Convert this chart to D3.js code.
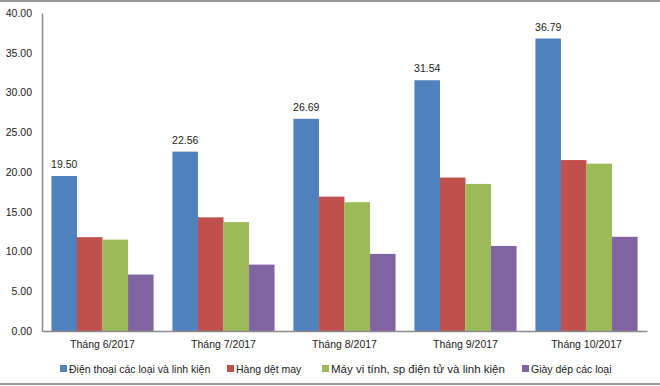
<!DOCTYPE html>
<html lang="vi">
<head>
  <meta charset="UTF-8">
  <title>Chart</title>
  <script src="https://d3js.org/d3.v7.min.js"></script>
  <style>
    body { margin: 0; padding: 0; background: #fff; }
    svg { display: block; font-family: 'Liberation Sans', Arial, sans-serif; }
  </style>
</head>
<body>
  <svg id="chart" width="660" height="386"></svg>
  <script>
    var months = ['Tháng 6/2017', 'Tháng 7/2017', 'Tháng 8/2017', 'Tháng 9/2017', 'Tháng 10/2017'];
    var seriesNames = ['Điện thoại các loại và linh kiện', 'Hàng dệt may', 'Máy vi tính, sp điện tử và linh kiện', 'Giày dép các loại'];
    var dienThoai = [19.50, 22.56, 26.69, 31.54, 36.79];
    var detMay = [11.8, 14.3, 16.9, 19.3, 21.5];
    var mayTinh = [11.5, 13.7, 16.2, 18.5, 21.05];
    var giayDep = [7.1, 8.35, 9.7, 10.7, 11.85];
    var yTicks = [0, 5, 10, 15, 20, 25, 30, 35, 40];
    var colors = ['#4F81BD', '#C0504D', '#9BBB59', '#8064A2'];

    var allSeries = [dienThoai, detMay, mayTinh, giayDep];
    var svg = d3.select('#chart');

    var mLeft = 42, mRight = 647, mTop = 13, mBottom = 331;

    var y = d3.scaleLinear().domain([0, 40]).range([mBottom, mTop]);
    var x0 = d3.scaleBand().domain(months).range([mLeft, mRight]).paddingInner(0).paddingOuter(0);
    var bw = x0.bandwidth();
    var x1 = d3.scaleBand().domain(d3.range(4)).range([bw * 0.078, bw * 0.922]);

    // frame lines
    svg.append('line').attr('x1', 0).attr('x2', 660).attr('y1', 1).attr('y2', 1)
      .attr('stroke', '#9a9a9a').attr('stroke-width', 2);
    svg.append('line').attr('x1', 0).attr('x2', 660).attr('y1', 384).attr('y2', 384)
      .attr('stroke', '#9a9a9a').attr('stroke-width', 2);

    // bars
    var groups = svg.selectAll('g.month')
      .data(months).enter().append('g')
      .attr('class', 'month')
      .attr('transform', function(d) { return 'translate(' + x0(d) + ',0)'; });

    groups.selectAll('rect')
      .data(function(d, i) {
        return allSeries.map(function(s, k) { return {k: k, v: s[i]}; });
      }).enter().append('rect')
      .attr('x', function(d) { return x1(d.k); })
      .attr('width', x1.bandwidth())
      .attr('y', function(d) { return y(d.v); })
      .attr('height', function(d) { return y(0) - y(d.v); })
      .attr('fill', function(d) { return colors[d.k]; });

    // labels on first series
    groups.append('text')
      .attr('x', function() { return x1(0) + x1.bandwidth() / 2; })
      .attr('y', function(d, i) { return y(dienThoai[i]) - 8; })
      .attr('text-anchor', 'middle')
      .attr('font-size', 10.5)
      .attr('fill', '#222')
      .text(function(d, i) { return dienThoai[i].toFixed(2); });

    // y axis
    var yAxis = svg.append('g')
      .attr('transform', 'translate(' + mLeft + ',0)')
      .call(d3.axisLeft(y).tickValues(yTicks).tickSize(0).tickPadding(10)
        .tickFormat(function(d) { return d.toFixed(2); }));
    yAxis.select('.domain').attr('stroke', '#8c8c8c').attr('stroke-width', 1.5);
    yAxis.selectAll('text').attr('font-size', 10.5).attr('fill', '#222')
      .style('font-family', "'Liberation Sans', Arial, sans-serif");

    // x axis
    var xAxis = svg.append('g')
      .attr('transform', 'translate(0,' + mBottom + ')')
      .call(d3.axisBottom(x0).tickSize(0).tickPadding(10));
    xAxis.select('.domain').attr('stroke', '#8c8c8c').attr('stroke-width', 1.5);
    xAxis.selectAll('text').attr('font-size', 10.5).attr('fill', '#222')
      .style('font-family', "'Liberation Sans', Arial, sans-serif");

    // legend
    var legendX = [60, 227, 322, 522];
    var legendSize = [10.5, 10.5, 11.5, 10.5];
    var legend = svg.selectAll('g.legend')
      .data(seriesNames).enter().append('g')
      .attr('class', 'legend')
      .attr('transform', function(d, i) { return 'translate(' + legendX[i] + ',369)'; });
    legend.append('rect')
      .attr('x', 0).attr('y', -4).attr('width', 7).attr('height', 7)
      .attr('fill', function(d, i) { return colors[i]; });
    legend.append('text')
      .attr('x', 9).attr('y', 0).attr('dy', '0.35em')
      .attr('font-size', function(d, i) { return legendSize[i]; })
      .attr('fill', '#222')
      .text(function(d) { return d; });
  </script>
</body>
</html>
